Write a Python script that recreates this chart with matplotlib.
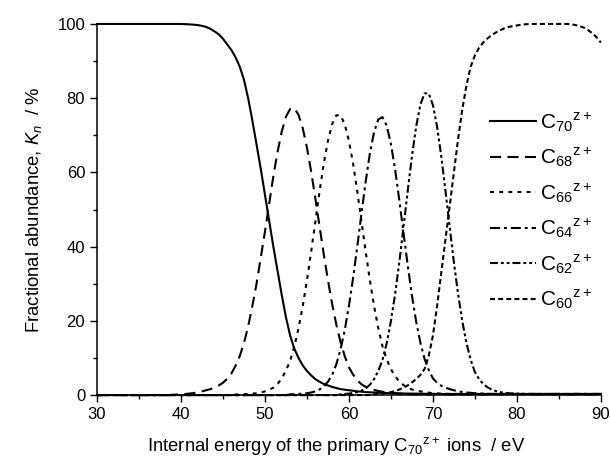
import numpy as np
import matplotlib
matplotlib.use("Agg")
import matplotlib.pyplot as plt
from matplotlib.ticker import MultipleLocator

plt.rcParams['font.family'] = ['Liberation Sans', 'DejaVu Sans']
plt.rcParams['mathtext.fontset'] = 'custom'
plt.rcParams['mathtext.rm'] = 'Liberation Sans'
plt.rcParams['mathtext.it'] = 'Liberation Sans:italic'

# internal energy grid (eV), 0.5 eV steps
energy = np.arange(30, 90.5, 0.5)

# fractional abundance (%)
c70 = [100] * 21 + [99.95, 99.9, 99.8, 99.7, 99.5, 99.2, 98.7, 98, 97.2, 96,
                    94.5, 93, 91, 88.5, 85, 80, 74, 67.5, 61, 54,
                    47, 40, 33.5, 27, 21, 16, 12.5, 10, 8, 6.5,
                    5.3, 4.3, 3.6, 3, 2.6, 2.2, 1.9, 1.6, 1.45, 1.3,
                    1.15, 1.0, 0.9, 0.8,
                    0.75, 0.7, 0.65, 0.6, 0.55, 0.5, 0.48, 0.45, 0.43, 0.4,
                    0.4, 0.38, 0.36, 0.35, 0.35, 0.35] + [0.3] * 40
c68 = [0] * 18 + [0.1, 0.15, 0.2, 0.3, 0.4, 0.55, 0.7, 1.0, 1.3, 1.6,
                  2.0, 2.6, 3.3, 4.4, 5.8, 7.9, 10.5, 14, 18.5, 24,
                  30, 37, 44, 51.5, 59, 65.5, 71, 75, 77.1, 77.3,
                  75.5, 71.9, 66.7, 60.3, 53, 45.5, 38, 31, 24.6, 19,
                  14.3, 10.5, 7.5, 5.5, 4, 2.9, 2.2, 1.7, 1.4, 1.1,
                  0.9, 0.75, 0.6, 0.5, 0.4, 0.35, 0.3, 0.25] + [0.2] * 45
c66 = [0] * 32 + [0.1, 0.15, 0.2, 0.25, 0.3, 0.4, 0.5, 0.7, 1.0, 1.4,
                  2.0, 3.0, 4.5, 6.6, 9.2, 13.1, 18, 23.9, 30.9, 38.6,
                  46.7, 54.8, 62.3, 68.5, 73, 75.4, 75.4, 73, 68.5, 62.3,
                  54.8, 46.7, 38.6, 30.9, 23.9, 18, 13.1, 9.6, 7, 5.1,
                  3.6, 2.7, 2.0, 1.5, 1.2, 1.0, 0.8, 0.65, 0.5, 0.45,
                  0.4, 0.35, 0.3] + [0.3] * 36
c64 = [0] * 46 + [0.2, 0.25, 0.3, 0.4, 0.5, 0.7, 1.0, 1.5, 2.3, 3.6,
                  5.4, 8.3, 12.3, 17.5, 24, 31.6, 40.1, 49, 57.6, 65.2,
                  70.9, 74.3, 74.9, 72.6, 67.7, 60.8, 52.5, 43.7, 35, 26.9,
                  19.9, 14.2, 9.8, 6.8, 4.5, 3.3, 2.5, 2.0, 1.6, 1.3,
                  1.0, 0.85, 0.7, 0.6, 0.5, 0.45, 0.4, 0.35, 0.3] + [0.3] * 26
c62 = [0] * 58 + [0.2, 0.3, 0.4, 0.6, 0.8, 1.2, 1.8, 2.8, 4.3, 6.5,
                  9.5, 14, 19.9, 27.2, 35.8, 45.3, 55, 64.3, 72.3, 78.2,
                  81.3, 81.3, 78.2, 72.3, 64.3, 55, 45.3, 35.8, 27.2, 19.9,
                  14, 9.5, 6.2, 4.3, 3.0, 2.1, 1.5, 1.1, 0.8, 0.65,
                  0.5, 0.45, 0.4, 0.35, 0.3] + [0.3] * 18
c60 = [0] * 66 + [0.2, 0.3, 0.4, 0.6, 0.8, 1.1, 1.5, 2.0, 2.6, 3.4,
                  4.3, 5.4, 7, 10.5, 16, 24, 33, 42, 51, 60,
                  69, 77, 83.5, 88.5, 91.5, 93.6, 95, 96.1, 97, 97.7,
                  98.3, 98.8, 99.2, 99.4, 99.6, 99.8, 99.9, 100] + [100] * 9 + \
      [99.9, 99.7, 99.4, 99, 98.3, 97.5, 96.4, 95]

labels = [r'C$_{70}{}^{\mathrm{z+}}$', r'C$_{68}{}^{\mathrm{z+}}$', r'C$_{66}{}^{\mathrm{z+}}$',
          r'C$_{64}{}^{\mathrm{z+}}$', r'C$_{62}{}^{\mathrm{z+}}$', r'C$_{60}{}^{\mathrm{z+}}$']

fig = plt.figure(figsize=(6.1, 4.61), dpi=100)
ax = fig.add_axes([0.159, 0.143, 0.826, 0.805])

lw = 1.5
ax.plot(energy, c70, color='black', lw=lw, ls='-', label=labels[0], clip_on=False)
ax.plot(energy, c68, color='black', lw=lw, dashes=[5.3, 3.1], label=labels[1], clip_on=False)
ax.plot(energy, c66, color='black', lw=lw, dashes=[1.9, 2.5], label=labels[2], clip_on=False)
ax.plot(energy, c64, color='black', lw=lw, dashes=[4.8, 1.9, 1.4, 1.9], label=labels[3], clip_on=False)
ax.plot(energy, c62, color='black', lw=lw, dashes=[3.8, 1.4, 1.4, 1.4, 1.4, 1.4], label=labels[4], clip_on=False)
ax.plot(energy, c60, color='black', lw=lw, dashes=[2.4, 1.5], label=labels[5], clip_on=False)

ax.set_xlim(30, 90)
ax.set_ylim(0, 100)
ax.xaxis.set_major_locator(MultipleLocator(10))
ax.xaxis.set_minor_locator(MultipleLocator(5))
ax.yaxis.set_major_locator(MultipleLocator(20))
ax.yaxis.set_minor_locator(MultipleLocator(10))
ax.tick_params(which='major', direction='out', length=5, width=1, labelsize=12, colors='black')
ax.tick_params(which='minor', direction='out', length=2.7, width=1)

ax.spines['top'].set_visible(False)
ax.spines['right'].set_visible(False)
ax.spines['left'].set_linewidth(1.1)
ax.spines['bottom'].set_linewidth(1.1)

ax.set_xlabel(r'Internal energy of the primary C$_{70}{}^{\mathrm{z+}}$ ions  / eV',
              fontsize=13.3, labelpad=10, x=0.474)
ax.set_ylabel(r'Fractional abundance, $K_n$  / %', fontsize=13.3, labelpad=10)

ax.legend(loc='upper left', bbox_to_anchor=(0.76, 0.795), frameon=False, fontsize=15,
          handlelength=2.2, handletextpad=0.2, labelspacing=0.58, borderpad=0)

fig.savefig('out.png', dpi=100)
